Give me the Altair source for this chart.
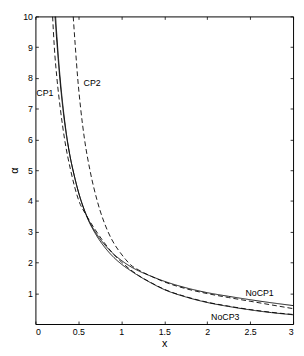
import altair as alt
import pandas as pd

# ---- data ----
nocp1_x = [0.228, 0.25, 0.28, 0.32, 0.36, 0.40, 0.45, 0.50, 0.60, 0.70, 0.80, 0.90, 1.00, 1.10, 1.20, 1.35, 1.50, 1.75, 2.00, 2.25, 2.50, 2.75, 3.00]
nocp1_y = [10.0, 9.15, 8.1, 7.0, 6.15, 5.5, 4.85, 4.3, 3.5, 2.98, 2.6, 2.3, 2.07, 1.88, 1.73, 1.55, 1.39, 1.18, 1.02, 0.9, 0.79, 0.69, 0.6]

nocp3_x = [0.235, 0.25, 0.28, 0.32, 0.36, 0.40, 0.45, 0.50, 0.60, 0.70, 0.80, 0.90, 1.00, 1.10, 1.20, 1.35, 1.50, 1.75, 2.00, 2.25, 2.50, 2.75, 3.00]
nocp3_y = [10.0, 9.35, 8.25, 7.1, 6.2, 5.5, 4.85, 4.3, 3.48, 2.93, 2.52, 2.2, 1.95, 1.75, 1.57, 1.33, 1.12, 0.88, 0.7, 0.57, 0.46, 0.37, 0.3]

cp1_x = [0.20, 0.22, 0.25, 0.29, 0.34, 0.41, 0.50, 0.60, 0.70, 0.80, 0.90, 1.00, 1.10, 1.20, 1.35, 1.50, 1.75, 2.00, 2.25, 2.50, 2.75, 3.00]
cp1_y = [10.0, 9.0, 8.0, 7.0, 6.0, 5.0, 4.05, 3.5, 3.05, 2.65, 2.3, 2.02, 1.78, 1.58, 1.34, 1.13, 0.89, 0.71, 0.58, 0.47, 0.38, 0.31]

cp2_x = [0.44, 0.465, 0.492, 0.527, 0.572, 0.635, 0.72, 0.845, 0.93, 0.98, 1.05, 1.11, 1.20, 1.35, 1.50, 1.75, 2.00, 2.25, 2.50, 2.75, 3.00]
cp2_y = [10.0, 9.0, 8.0, 7.0, 6.0, 5.0, 4.0, 3.0, 2.55, 2.35, 2.1, 1.92, 1.76, 1.55, 1.37, 1.15, 0.99, 0.86, 0.74, 0.62, 0.5]

label_text = ["CP1", "CP2", "NoCP1", "NoCP3"]
label_x = [0.11, 0.66, 2.61, 2.21]
label_y = [7.5, 7.84, 1.0, 0.22]

x_ticks = [0, 0.5, 1, 1.5, 2, 2.5, 3]
y_ticks = [1, 2, 3, 4, 5, 6, 7, 8, 9, 10]

series = [("NoCP1", nocp1_x, nocp1_y), ("NoCP3", nocp3_x, nocp3_y),
          ("CP1", cp1_x, cp1_y), ("CP2", cp2_x, cp2_y)]
rows = []
for name, xs, ys in series:
    for i, (a, b) in enumerate(zip(xs, ys)):
        rows.append({"series": name, "x": a, "y": b, "order": i})
lines_df = pd.DataFrame(rows)
labels_df = pd.DataFrame({"text": label_text, "x": label_x, "y": label_y})

W, H = 263, 314
FONT = "Liberation Sans"

xs = alt.Scale(domain=[0, 3], nice=False, zero=False)
ys = alt.Scale(domain=[0, 10], nice=False, zero=False)

common = dict(grid=False, domain=False, tickColor="black", tickWidth=0.8)

lines = alt.Chart(lines_df).mark_line(color="black", strokeWidth=0.9, clip=True,
                                      interpolate="monotone").encode(
    x=alt.X("x:Q", scale=xs, axis=alt.Axis(orient="bottom", values=x_ticks, format=".1~f",
                                           tickSize=0, labelPadding=4, title="x",
                                           titlePadding=1, **common)),
    y=alt.Y("y:Q", scale=ys, axis=alt.Axis(orient="left", values=y_ticks, format="d",
                                           tickSize=0, labelPadding=3, title="α",
                                           titlePadding=3, **common)),
    detail="series:N",
    order="order:Q",
    strokeDash=alt.StrokeDash("series:N",
                              scale=alt.Scale(domain=["NoCP1", "NoCP3", "CP1", "CP2"],
                                              range=[[1, 0], [1, 0], [5, 3], [5, 3]]),
                              legend=None),
)

texts = alt.Chart(labels_df).mark_text(font=FONT, fontSize=9, color="black").encode(
    x=alt.X("x:Q", scale=xs, axis=alt.Axis(orient="top", offset=-H, values=x_ticks,
                                           labels=False, tickSize=3, title=None, **common)),
    y=alt.Y("y:Q", scale=ys, axis=alt.Axis(orient="right", offset=-W, values=y_ticks,
                                           labels=False, tickSize=3, title=None, **common)),
    text="text:N",
)

ghost = alt.Chart(labels_df).mark_point(opacity=0).encode(
    x=alt.X("x:Q", scale=xs, axis=alt.Axis(orient="bottom", offset=-H, values=x_ticks,
                                           labels=False, tickSize=3, title=None, **common)),
    y=alt.Y("y:Q", scale=ys, axis=alt.Axis(orient="left", offset=-W, values=y_ticks,
                                           labels=False, tickSize=3, title=None, **common)),
)

chart = alt.layer(lines, texts, ghost).resolve_axis(
    x="independent", y="independent"
).properties(
    width=W, height=H,
    autosize=alt.AutoSizeParams(type="none"),
    padding={"left": 28, "top": 5, "right": 3, "bottom": 26},
).configure_view(
    stroke="black", strokeWidth=1
).configure_axis(
    labelFont=FONT, labelFontSize=9, labelColor="black",
    titleFont=FONT, titleFontSize=11, titleColor="black", titleFontWeight="normal",
)

chart.save("out.html", embed_options={"renderer": "svg", "actions": False})
